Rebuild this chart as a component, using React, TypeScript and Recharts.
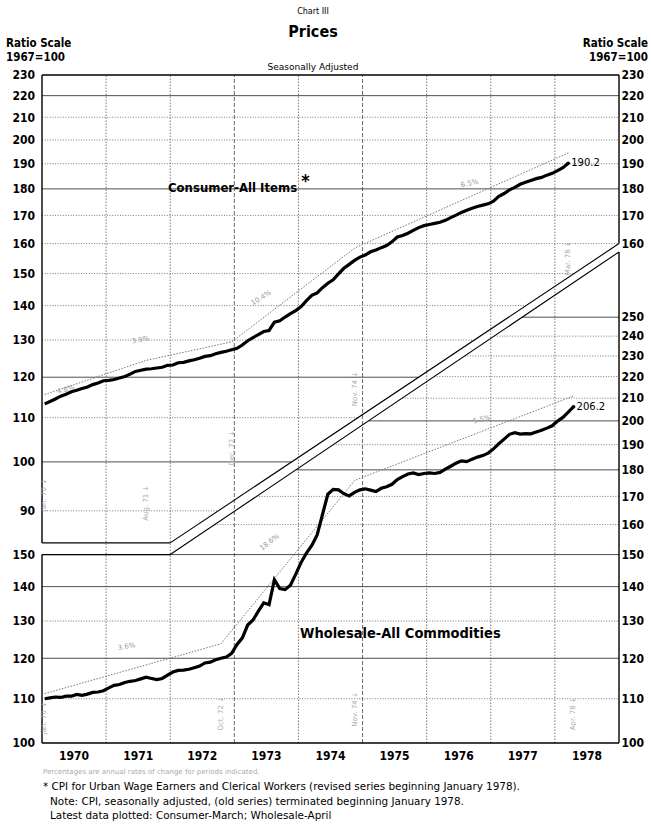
import React from 'react';
import { ComposedChart, Line, XAxis, YAxis, ReferenceLine, ReferenceDot } from 'recharts';

const FONT = '"DejaVu Sans Condensed", "Liberation Sans Narrow", "DejaVu Sans", sans-serif';
const FONT_REG = '"DejaVu Sans", "Liberation Sans", sans-serif';

const years = [1970, 1971, 1972, 1973, 1974, 1975, 1976, 1977, 1978];

// Consumer prices, all items (1967=100), monthly Jan 1970 - Mar 1978
const consumerValues = [
  113.3, 113.9, 114.5, 115.2, 115.7, 116.3, 116.7, 117.1, 117.5, 118.1, 118.5, 119.1,
  119.2, 119.4, 119.8, 120.2, 120.8, 121.5, 121.8, 122.1, 122.2, 122.4, 122.6, 123.1,
  123.2, 123.8, 123.9, 124.3, 124.6, 125.0, 125.5, 125.7, 126.2, 126.6, 126.9, 127.3,
  127.7, 128.6, 129.8, 130.7, 131.5, 132.4, 132.7, 135.1, 135.5, 136.6, 137.6, 138.5,
  139.7, 141.5, 143.1, 143.9, 145.5, 146.9, 148.0, 149.9, 151.7, 153.0, 154.3, 155.4,
  156.1, 157.2, 157.8, 158.6, 159.3, 160.6, 162.3, 162.8, 163.6, 164.6, 165.6, 166.3,
  166.7, 167.1, 167.5, 168.2, 169.2, 170.1, 171.1, 171.9, 172.6, 173.3, 173.8, 174.3,
  175.3, 177.1, 178.2, 179.6, 180.6, 181.8, 182.6, 183.3, 184.0, 184.5, 185.4, 186.1,
  187.2, 188.4, 190.2,
];

// Wholesale prices, all commodities (1967=100), monthly Jan 1970 - Apr 1978
const wholesaleValues = [
  110.0, 110.2, 110.4, 110.3, 110.6, 110.6, 111.0, 110.8, 111.1, 111.5, 111.6, 111.9,
  112.6, 113.2, 113.4, 113.9, 114.2, 114.4, 114.8, 115.2, 114.9, 114.6, 114.9, 115.7,
  116.5, 116.9, 117.0, 117.2, 117.6, 118.0, 118.8, 119.0, 119.6, 120.0, 120.3, 121.3,
  123.6, 125.4, 128.9, 130.3, 132.8, 135.2, 134.7, 142.1, 139.4, 139.1, 140.4, 143.8,
  147.5, 150.5, 153.0, 156.5, 163.5, 170.8, 172.6, 172.4, 171.0, 170.2, 171.5, 172.4,
  172.8, 172.3, 171.8, 173.0, 173.6, 174.5, 176.3, 177.4, 178.4, 178.8, 178.2, 178.6,
  178.8, 178.6, 179.0, 180.3, 181.4, 182.6, 183.5, 183.2, 184.2, 185.0, 185.6, 186.6,
  188.3, 190.4, 192.3, 194.3, 195.0, 194.4, 194.6, 194.5, 195.3, 196.0, 196.9, 197.9,
  199.9, 201.5, 203.8, 206.2,
];

// Trend (annual rate) segments, dotted
const consumerTrend = [
  { t: 1970.04, v: 115.6 },
  { t: 1971.62, v: 124.4 },
  { t: 1972.96, v: 129.5 },
  { t: 1974.88, v: 158.5 },
  { t: 1978.21, v: 194.5 },
];
const wholesaleTrend = [
  { t: 1970.04, v: 111.2 },
  { t: 1972.79, v: 123.8 },
  { t: 1974.88, v: 176.0 },
  { t: 1978.29, v: 211.0 },
];

const consumerRates = [
  { t: 1970.37, v: 116.8, text: '4.8%', angle: -14 },
  { t: 1971.54, v: 130.0, text: '3.9%', angle: -10 },
  { t: 1973.42, v: 142.3, text: '10.4%', angle: -32 },
  { t: 1976.67, v: 182.0, text: '6.5%', angle: -13 },
];
const wholesaleRates = [
  { t: 1971.32, v: 123.0, text: '3.6%', angle: -10 },
  { t: 1973.55, v: 154.0, text: '18.6%', angle: -38 },
  { t: 1976.86, v: 200.5, text: '5.5%', angle: -12 },
];

const consumerDates = [
  { t: 1970.04, v: 93.1, text: 'Jan. 70' },
  { t: 1971.62, v: 91.5, text: 'Aug. 71' },
  { t: 1972.96, v: 103, text: 'Dec. 72' },
  { t: 1974.88, v: 117, text: 'Nov. 74' },
  { t: 1978.21, v: 155, text: 'Mar. 78' },
];
const wholesaleDates = [
  { t: 1970.04, v: 105.5, text: 'Jan. 70' },
  { t: 1972.79, v: 106.5, text: 'Oct. 72' },
  { t: 1974.88, v: 107.5, text: 'Nov. 74' },
  { t: 1978.29, v: 106.5, text: 'Apr. 78' },
];

const consumerLeftTicks = [90, 100, 110, 120, 130, 140, 150, 160, 170, 180, 190, 200, 210, 220, 230];
const consumerRightTicks = [160, 170, 180, 190, 200, 210, 220, 230];
const wholesaleLeftTicks = [100, 110, 120, 130, 140, 150];
const wholesaleRightTicks = [100, 110, 120, 130, 140, 150, 160, 170, 180, 190, 200, 210, 220, 230, 240, 250];
const solidConsumer = [220, 180, 120, 100];
const solidWholesale = [250, 200, 180, 150, 140, 120];

// Scale geometry (ratio scale, both panels share the same pixels per decade)
const X_MIN = 1970;
const X_MAX = 1979;
const C_MIN = 54.6;
const C_MAX = 230;
const W_MIN = 100;
const W_MAX = 421;
// scale break (double diagonal line)
const BREAK_X = 1972;
const UPPER_BREAK_LEFT = 84.0; // consumer units
const UPPER_BREAK_RIGHT = 160; // consumer units
const LOWER_BREAK_LEFT = 150; // wholesale units
const LOWER_BREAK_RIGHT = 287.7; // wholesale units

const monthT = (i: number) => X_MIN + (i + 0.5) / 12;
const chartData = wholesaleValues.map((w, i) => ({
  t: monthT(i),
  w,
  c: i < consumerValues.length ? consumerValues[i] : null,
}));
const lastC = consumerValues.length - 1;
const lastW = wholesaleValues.length - 1;

const crossUpper = (v: number) =>
  BREAK_X + (X_MAX - BREAK_X) * Math.log(v / UPPER_BREAK_LEFT) / Math.log(UPPER_BREAK_RIGHT / UPPER_BREAK_LEFT);
const crossLower = (v: number) =>
  BREAK_X + (X_MAX - BREAK_X) * Math.log(v / LOWER_BREAK_LEFT) / Math.log(LOWER_BREAK_RIGHT / LOWER_BREAK_LEFT);

const tickStyle = { fontSize: 12, fontWeight: 700, fill: '#000', fontFamily: FONT };

const rotLabel = (text: string, angle: number, size: number, color: string, anchor: string, dx = 0) => (props: any) => {
  const vb = props.viewBox || {};
  const cx = (vb.x ?? 0) + (vb.width ?? 0) / 2 + dx;
  const cy = (vb.y ?? 0) + (vb.height ?? 0) / 2;
  return (
    <text
      x={cx}
      y={cy}
      transform={`rotate(${angle} ${cx} ${cy})`}
      fontSize={size}
      fill={color}
      fontFamily={FONT_REG}
      textAnchor={anchor}
      dominantBaseline="middle"
    >
      {text}
    </text>
  );
};

const gridDotted = { stroke: '#444', strokeWidth: 0.7, strokeDasharray: '1 1.6' };
const gridSolid = { stroke: '#222', strokeWidth: 0.8 };
const frame = { stroke: '#000', strokeWidth: 1.4 };

export default function App() {
  return (
    <div style={{ position: 'absolute', left: 0, top: 0, width: 651, height: 824, background: '#fff', fontFamily: FONT }}>
      <ComposedChart
        width={651}
        height={824}
        data={chartData}
        margin={{ top: 75, right: 0.98, bottom: 51, left: 5.98 }}
      >
        <XAxis
          dataKey="t"
          type="number"
          domain={[X_MIN, X_MAX]}
          allowDataOverflow
          ticks={years.map((y) => y + 0.5)}
          tickFormatter={(v: number) => String(Math.floor(v))}
          axisLine={{ stroke: '#000', strokeWidth: 1.4 }}
          tickLine={false}
          tickSize={4}
          tickMargin={4}
          height={30}
          tick={tickStyle}
        />
        <YAxis yAxisId="cL" orientation="left" type="number" scale="log" domain={[C_MIN, C_MAX]} allowDataOverflow
          ticks={consumerLeftTicks} width={0.02} axisLine={false} tickLine={false} tickSize={5} tickMargin={2} tick={tickStyle} interval={0} />
        <YAxis yAxisId="wL" orientation="left" type="number" scale="log" domain={[W_MIN, W_MAX]} allowDataOverflow
          ticks={wholesaleLeftTicks} width={36} axisLine={false} tickLine={false} tickSize={5} tickMargin={2} tick={tickStyle} interval={0} />
        <YAxis yAxisId="cR" orientation="right" type="number" scale="log" domain={[C_MIN, C_MAX]} allowDataOverflow
          ticks={consumerRightTicks} width={0.02} axisLine={false} tickLine={false} tickSize={1} tickMargin={1.5} tick={tickStyle} interval={0} />
        <YAxis yAxisId="wR" orientation="right" type="number" scale="log" domain={[W_MIN, W_MAX]} allowDataOverflow
          ticks={wholesaleRightTicks} width={31} axisLine={false} tickLine={false} tickSize={1} tickMargin={1.5} tick={tickStyle} interval={0} />

        {/* vertical year grid */}
        {years.slice(1).map((y) => (
          <ReferenceLine key={'vx' + y} yAxisId="wL" x={y} ifOverflow="visible"
            stroke="#444" strokeWidth={y === 1973 || y === 1975 ? 0.8 : 0.7}
            strokeDasharray={y === 1973 || y === 1975 ? '4 2' : '1.5 1.5'} />
        ))}

        {/* consumer grid (upper panel) */}
        {consumerLeftTicks.filter((v) => v < C_MAX).map((v) => (
          <ReferenceLine key={'gc' + v} yAxisId="cL" ifOverflow="visible"
            segment={[{ x: X_MIN, y: v }, { x: v >= UPPER_BREAK_RIGHT ? X_MAX : crossUpper(v), y: v }]}
            {...(solidConsumer.includes(v) ? gridSolid : gridDotted)} />
        ))}
        {/* wholesale grid (lower panel) */}
        {wholesaleRightTicks.filter((v) => v > W_MIN).map((v) => (
          <ReferenceLine key={'gw' + v} yAxisId="wL" ifOverflow="visible"
            segment={[{ x: v <= LOWER_BREAK_LEFT ? X_MIN : crossLower(v), y: v }, { x: X_MAX, y: v }]}
            {...(solidWholesale.includes(v) ? gridSolid : gridDotted)} />
        ))}

        {/* frame */}
        <ReferenceLine yAxisId="cL" ifOverflow="visible" segment={[{ x: X_MIN, y: C_MAX }, { x: X_MAX, y: C_MAX }]} {...frame} />
        <ReferenceLine yAxisId="cL" ifOverflow="visible" segment={[{ x: X_MIN, y: C_MAX }, { x: X_MIN, y: UPPER_BREAK_LEFT }]} {...frame} />
        <ReferenceLine yAxisId="cL" ifOverflow="visible" segment={[{ x: X_MAX, y: C_MAX }, { x: X_MAX, y: UPPER_BREAK_RIGHT }]} {...frame} />
        <ReferenceLine yAxisId="wL" ifOverflow="visible" segment={[{ x: X_MIN, y: LOWER_BREAK_LEFT }, { x: X_MIN, y: W_MIN }]} {...frame} />
        <ReferenceLine yAxisId="wL" ifOverflow="visible" segment={[{ x: X_MAX, y: LOWER_BREAK_RIGHT }, { x: X_MAX, y: W_MIN }]} {...frame} />
        <ReferenceLine yAxisId="cL" ifOverflow="visible" segment={[{ x: X_MIN, y: UPPER_BREAK_LEFT }, { x: BREAK_X, y: UPPER_BREAK_LEFT }]} {...frame} strokeWidth={1.1} />
        <ReferenceLine yAxisId="cL" ifOverflow="visible" segment={[{ x: BREAK_X, y: UPPER_BREAK_LEFT }, { x: X_MAX, y: UPPER_BREAK_RIGHT }]} {...frame} strokeWidth={1.1} />
        <ReferenceLine yAxisId="wL" ifOverflow="visible" segment={[{ x: X_MIN, y: LOWER_BREAK_LEFT }, { x: BREAK_X, y: LOWER_BREAK_LEFT }]} {...frame} strokeWidth={1.1} />
        <ReferenceLine yAxisId="wL" ifOverflow="visible" segment={[{ x: BREAK_X, y: LOWER_BREAK_LEFT }, { x: X_MAX, y: LOWER_BREAK_RIGHT }]} {...frame} strokeWidth={1.1} />

        {/* trend lines */}
        <Line yAxisId="cL" data={consumerTrend} dataKey="v" type="linear" dot={false} isAnimationActive={false}
          stroke="#777" strokeWidth={1} strokeDasharray="1.5 1.5" />
        <Line yAxisId="wL" data={wholesaleTrend} dataKey="v" type="linear" dot={false} isAnimationActive={false}
          stroke="#777" strokeWidth={1} strokeDasharray="1.5 1.5" />

        {/* data */}
        <Line yAxisId="cL" dataKey="c" type="linear" dot={false} isAnimationActive={false}
          stroke="#000" strokeWidth={3.2} connectNulls={false} />
        <Line yAxisId="wL" dataKey="w" type="linear" dot={false} isAnimationActive={false}
          stroke="#000" strokeWidth={3.2} />

        <ReferenceDot yAxisId="cL" x={chartData[lastC].t} y={consumerValues[lastC]} r={1.8} fill="#000" stroke="none" ifOverflow="visible"
          label={rotLabel(consumerValues[lastC].toFixed(1), 0, 10, '#000', 'start', 3)} />
        <ReferenceDot yAxisId="wL" x={chartData[lastW].t} y={wholesaleValues[lastW]} r={1.8} fill="#000" stroke="none" ifOverflow="visible"
          label={rotLabel(wholesaleValues[lastW].toFixed(1), 0, 10, '#000', 'start', 3)} />

        {consumerRates.map((d) => (
          <ReferenceDot key={'cr' + d.text} yAxisId="cL" x={d.t} y={d.v} r={0.01} fill="none" stroke="none" ifOverflow="visible"
            label={rotLabel(d.text, d.angle, 7, '#999', 'middle')} />
        ))}
        {wholesaleRates.map((d) => (
          <ReferenceDot key={'wr' + d.text} yAxisId="wL" x={d.t} y={d.v} r={0.01} fill="none" stroke="none" ifOverflow="visible"
            label={rotLabel(d.text, d.angle, 7, '#999', 'middle')} />
        ))}
        {consumerDates.map((d) => (
          <ReferenceDot key={'cd' + d.text} yAxisId="cL" x={d.t} y={d.v} r={0.01} fill="none" stroke="none" ifOverflow="visible"
            label={rotLabel(d.text + ' \u2193', -90, 7, '#aaa', 'middle')} />
        ))}
        {wholesaleDates.map((d) => (
          <ReferenceDot key={'wd' + d.text} yAxisId="wL" x={d.t} y={d.v} r={0.01} fill="none" stroke="none" ifOverflow="visible"
            label={rotLabel(d.text + ' \u2193', -90, 7, '#aaa', 'middle')} />
        ))}
      </ComposedChart>

      {/* titles */}
      <div style={{ position: 'absolute', left: 0, width: 626, top: 7, textAlign: 'center', fontSize: 8, fontFamily: FONT_REG }}>Chart III</div>
      <div style={{ position: 'absolute', left: 0, width: 626, top: 22, textAlign: 'center', fontSize: 16, fontWeight: 700 }}>Prices</div>
      <div style={{ position: 'absolute', left: 0, width: 626, top: 62, textAlign: 'center', fontSize: 9, fontFamily: FONT_REG }}>Seasonally Adjusted</div>
      <div style={{ position: 'absolute', left: 6, top: 36, fontSize: 11.5, fontWeight: 700, lineHeight: '14px' }}>Ratio Scale<br />1967=100</div>
      <div style={{ position: 'absolute', right: 3, top: 36, fontSize: 11.5, fontWeight: 700, lineHeight: '14px', textAlign: 'right' }}>Ratio Scale<br />1967=100</div>

      {/* series names */}
      <div style={{ position: 'absolute', left: 168, top: 175, fontSize: 13, fontWeight: 700 }}>
        Consumer-All Items <span style={{ fontSize: 18, position: 'relative', top: -5 }}>*</span>
      </div>
      <div style={{ position: 'absolute', left: 300, top: 625, fontSize: 14.5, fontWeight: 700 }}>Wholesale-All Commodities</div>

      {/* footnotes */}
      <div style={{ position: 'absolute', left: 43, top: 768, fontSize: 7, color: '#aaa', fontFamily: FONT_REG }}>
        Percentages are annual rates of change for periods indicated.
      </div>
      <div style={{ position: 'absolute', left: 43, top: 779, fontSize: 10.4, fontFamily: FONT_REG, lineHeight: '14.5px' }}>
        * CPI for Urban Wage Earners and Clerical Workers (revised series beginning January 1978).<br />
        <span style={{ paddingLeft: 7 }}>Note: CPI, seasonally adjusted, (old series) terminated beginning January 1978.</span><br />
        <span style={{ paddingLeft: 7 }}>Latest data plotted: Consumer-March; Wholesale-April</span>
      </div>
    </div>
  );
}
